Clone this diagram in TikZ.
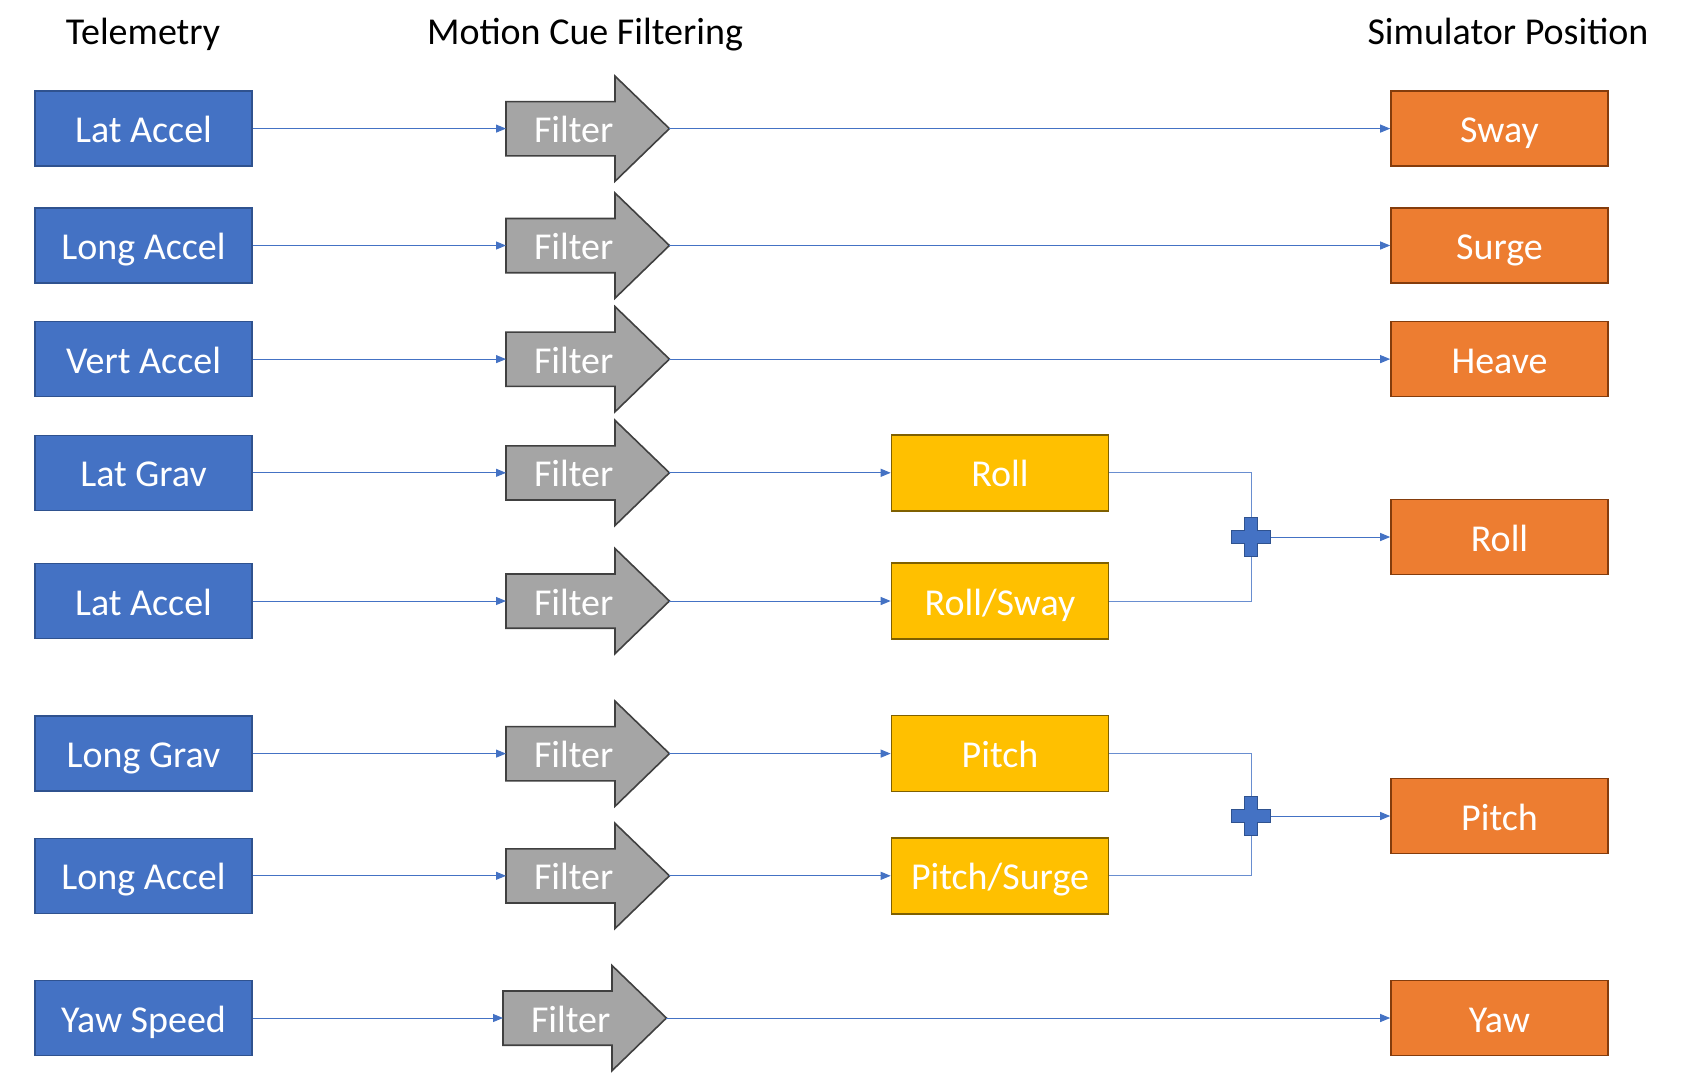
\documentclass[tikz,border=0pt]{standalone}
\usepackage{fontspec}
\setmainfont{Carlito}
\usetikzlibrary{arrows.meta,calc,backgrounds}

\definecolor{telblue}{RGB}{68,114,196}
\definecolor{telborder}{RGB}{47,82,143}
\definecolor{simorange}{RGB}{237,125,49}
\definecolor{simborder}{RGB}{132,60,12}
\definecolor{mixyellow}{RGB}{255,192,0}
\definecolor{mixborder}{RGB}{127,96,0}
\definecolor{filtergray}{RGB}{165,165,165}
\definecolor{filterborder}{RGB}{64,64,64}
\definecolor{linkblue}{RGB}{68,114,196}

\tikzset{
  labelfont/.style={font=\fontsize{38}{42}\selectfont, text height=24pt, text depth=0pt},
  box/.style={labelfont, text height=28pt, minimum width=217pt, minimum height=75pt,
    inner sep=0pt, line width=1.6pt, text=white},
  telbox/.style={box, fill=telblue, draw=telborder},
  simbox/.style={box, fill=simorange, draw=simborder},
  mixbox/.style={box, minimum height=76pt, fill=mixyellow, draw=mixborder},
  filterbox/.style={labelfont, text height=28pt, minimum width=163pt, minimum height=105pt,
    inner sep=0pt, anchor=west, text=white},
  filtershape/.style={fill=filtergray, draw=filterborder, line width=1.6pt},
  sumnode/.style={minimum size=39pt, inner sep=0pt},
  sumshape/.style={fill=telblue, draw=telborder, line width=1.6pt},
  link/.style={draw=linkblue, line width=1pt, -{Triangle[length=10pt,width=8pt]}},
  joinline/.style={draw=linkblue!80, line width=1pt},
  header/.style={labelfont, inner sep=0pt, text=black}
}

\begin{document}
\begin{tikzpicture}[x=1pt, y=-1pt]
  \useasboundingbox (0,0) rectangle (1681,1090);

  \node[header] (hTel) at (143,32) {Telemetry};
  \node[header] (hFilt) at (585,32) {Motion Cue Filtering};
  \node[header] (hSim) at (1508,32) {Simulator Position};

  \foreach \n/\y/\fx/\txt in {1/128.6/506/Lat Accel, 2/245.5/506/Long Accel,
      3/359.1/506/Vert Accel, 4/472.8/506/Lat Grav, 5/601/506/Lat Accel,
      6/753.6/506/Long Grav, 7/875.8/506/Long Accel, 8/1018/503/Yaw Speed} {
    \node[telbox] (t\n) at (143.5,\y) {\txt};
    \node[filterbox] (f\n) at (\fx,\y) {\hspace*{-28pt}Filter};
    \draw[link] (t\n) -- (f\n);
  }

  \node[mixbox] (roll) at (1000,472.8) {Roll};
  \node[mixbox] (rollsway) at (1000,601) {Roll/Sway};
  \node[mixbox] (pitch) at (1000,753.6) {Pitch};
  \node[mixbox] (pitchsurge) at (1000,875.8) {Pitch/Surge};

  \node[simbox] (sway) at (1499.5,128.6) {Sway};
  \node[simbox] (surge) at (1499.5,245.5) {Surge};
  \node[simbox] (heave) at (1499.5,359.1) {Heave};
  \node[simbox] (simroll) at (1499.5,537) {Roll};
  \node[simbox] (simpitch) at (1499.5,816) {Pitch};
  \node[simbox] (yaw) at (1499.5,1018) {Yaw};

  \node[sumnode] (sum1) at (1251,537) {};
  \node[sumnode] (sum2) at (1251,816) {};

  \draw[link] (f1) -- (sway);
  \draw[link] (f2) -- (surge);
  \draw[link] (f3) -- (heave);
  \draw[link] (f4) -- (roll);
  \draw[link] (f5) -- (rollsway);
  \draw[link] (f6) -- (pitch);
  \draw[link] (f7) -- (pitchsurge);
  \draw[link] (f8) -- (yaw);

  \draw[joinline] (roll) -| (sum1);
  \draw[joinline] (rollsway) -| (sum1);
  \draw[joinline] (pitch) -| (sum2);
  \draw[joinline] (pitchsurge) -| (sum2);
  \draw[link] (sum1) -- (simroll);
  \draw[link] (sum2) -- (simpitch);

  \foreach \s in {sum1,sum2}
    \draw[sumshape] ($(\s)+(-6.5,-19.5)$) -- ++(13,0) -- ++(0,13) -- ++(13,0)
      -- ++(0,13) -- ++(-13,0) -- ++(0,13) -- ++(-13,0) -- ++(0,-13)
      -- ++(-13,0) -- ++(0,-13) -- ++(13,0) -- cycle;

  \begin{scope}[on background layer]
    \foreach \f in {f1,f2,f3,f4,f5,f6,f7,f8}
      \draw[filtershape] ($(\f.west)+(0,-27)$) -- ++(109,0) -- ++(0,-25.5)
        -- (\f.east) -- ($(\f.south west)+(109,0)$) -- ++(0,-25.5)
        -- ++(-109,0) -- cycle;
  \end{scope}
\end{tikzpicture}
\end{document}
